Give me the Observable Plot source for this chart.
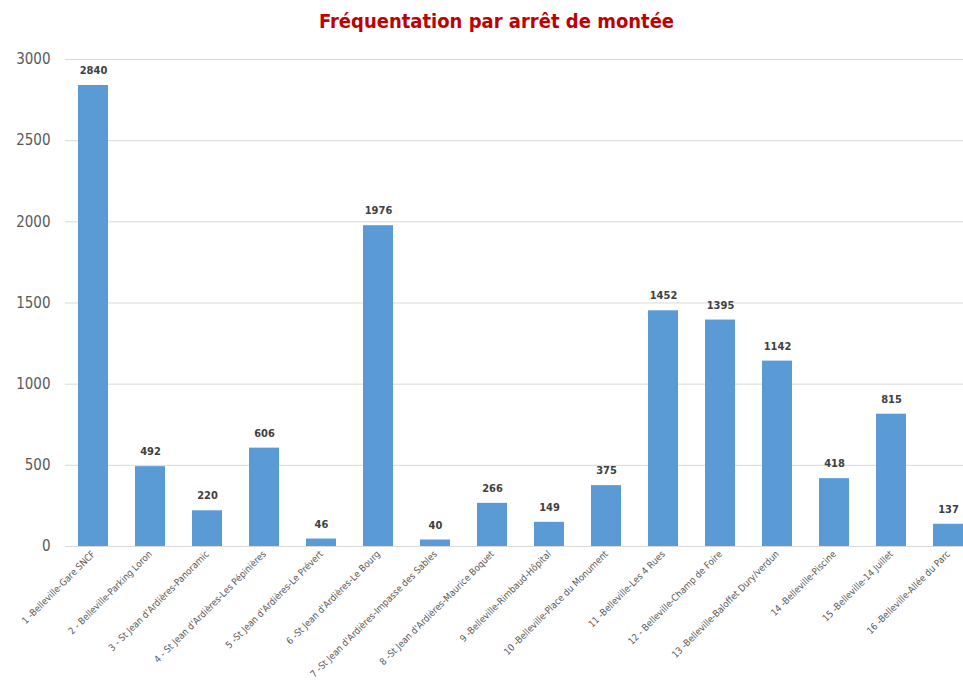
<!DOCTYPE html>
<html><head><meta charset="utf-8">
<script src="https://cdn.jsdelivr.net/npm/d3@7"></script>
<script src="https://cdn.jsdelivr.net/npm/@observablehq/plot@0.6"></script>
<style>
html,body{margin:0;background:#fff;overflow:hidden;}
#title{width:963px;height:40px;box-sizing:border-box;padding-top:9px;text-align:center;font-family:"DejaVu Sans Condensed","DejaVu Sans",sans-serif;font-weight:bold;font-size:20px;color:#c00000;padding-left:30px;}
</style></head>
<body>
<div id="title">Fréquentation par arrêt de montée</div>
<div id="chart"></div>
<script>
const stops = [
  "1 -Belleville-Gare SNCF",
  "2 - Belleville-Parking Loron",
  "3 - St Jean d'Ardières-Panoramic",
  "4 - St Jean d'Ardières-Les Pépinières",
  "5 -St Jean d'Ardières-Le Prévert",
  "6 -St Jean d'Ardières-Le Bourg",
  "7 -St Jean d'Ardières-Impasse des Sables",
  "8 -St Jean d'Ardières-Maurice Boquet",
  "9 -Belleville-Rimbaud-Hôpital",
  "10 -Belleville-Place du Monument",
  "11 -Belleville-Les 4 Rues",
  "12 - Belleville-Champ de Foire",
  "13 -Belleville-Baloffet Dury/verdun",
  "14 -Belleville-Piscine",
  "15 -Belleville-14 Juillet",
  "16 -Belleville-Allée du Parc"
];
const values = [2840, 492, 220, 606, 46, 1976, 40, 266, 149, 375, 1452, 1395, 1142, 418, 815, 137];
const yTicks = [0, 500, 1000, 1500, 2000, 2500, 3000];
const data = stops.map((s, i) => ({stop: s, value: values[i]}));

const chart = Plot.plot({
  width: 963,
  height: 650,
  marginTop: 19,
  marginBottom: 144,
  marginLeft: 65,
  marginRight: 0,
  style: {fontFamily: "DejaVu Sans Condensed, DejaVu Sans, sans-serif"},
  x: {domain: stops, paddingInner: 0.48, paddingOuter: 0.116, align: 1, label: null},
  y: {domain: [0, 3000], label: null},
  marks: [
    Plot.ruleY(yTicks, {stroke: "#d9d9d9", strokeWidth: 1}),
    Plot.axisY({ticks: yTicks, tickSize: 0, tickPadding: 15, fontSize: 15, fill: "#595959", tickFormat: d => String(d)}),
    Plot.axisX({tickSize: 0, tickPadding: 6, tickRotate: -45, fontSize: 9.5, fill: "#595959", textAnchor: "end"}),
    Plot.barY(data, {x: "stop", y: "value", fill: "#5b9bd5"}),
    Plot.text(data, {x: "stop", y: "value", text: d => String(d.value), dy: -15, fontSize: 11, fontWeight: "bold", fill: "#404040"})
  ]
});
document.getElementById("chart").appendChild(chart);
</script>
</body></html>
